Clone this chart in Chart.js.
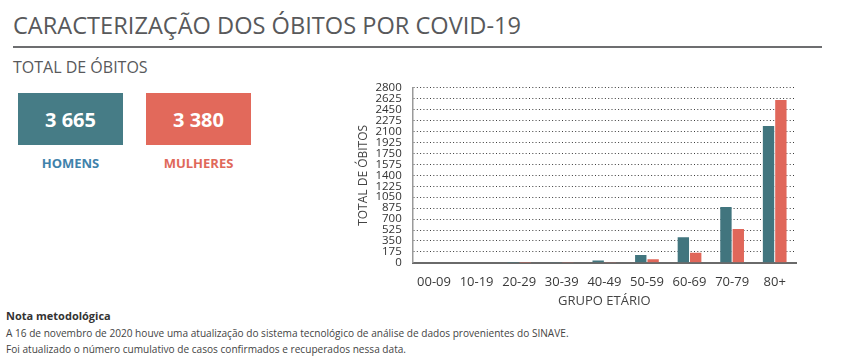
<!DOCTYPE html>
<html>
<head>
<meta charset="utf-8">
<script src="https://cdn.jsdelivr.net/npm/chart.js@4"></script>
<style>
  html, body { margin:0; padding:0; background:#fff; }
  body { width:842px; height:357px; position:relative; overflow:hidden; font-family:"Open Sans", sans-serif; color:#58595b; }
  .abs { position:absolute; white-space:nowrap; }
  #title { left:13px; top:14px; font-size:23.6px; line-height:23px; color:#58595b; }
  #rule { left:13px; top:46px; width:809px; height:2px; background:#6d6e70; }
  #sub { left:13px; top:59px; font-size:16px; line-height:16px; color:#58595b; }
  .box { top:93px; width:105px; height:52px; display:flex; align-items:center; justify-content:center; color:#fff; font-weight:700; font-size:20px; }
  #boxM { left:18px; background:#467c86; }
  #boxF { left:146px; background:#e2695b; }
  .lbl { top:155px; width:105px; text-align:center; font-weight:700; font-size:13px; line-height:17px; }
  #lblM { left:18px; color:#3f82ab; }
  #lblF { left:146px; color:#e0685a; }
  #nota { left:6px; top:309px; font-size:11px; font-weight:700; color:#333; line-height:14px; }
  #l1 { left:6px; top:327px; font-size:10.1px; color:#444; line-height:12px; }
  #l2 { left:6px; top:343px; font-size:10.1px; color:#444; line-height:12px; }
  #wrap { position:absolute; left:350px; top:70px; width:460px; height:241px; }
</style>
</head>
<body>
<div class="abs" id="title">CARACTERIZAÇÃO DOS ÓBITOS POR COVID-19</div>
<div class="abs" id="rule"></div>
<div class="abs" id="sub">TOTAL DE ÓBITOS</div>
<div class="abs box" id="boxM"></div>
<div class="abs box" id="boxF"></div>
<div class="abs lbl" id="lblM"></div>
<div class="abs lbl" id="lblF"></div>
<div class="abs" id="nota">Nota metodológica</div>
<div class="abs" id="l1">A 16 de novembro de 2020 houve uma atualização do sistema tecnológico de análise de dados provenientes do SINAVE.</div>
<div class="abs" id="l2">Foi atualizado o número cumulativo de casos confirmados e recuperados nessa data.</div>
<div id="wrap"><canvas id="c"></canvas></div>
<script>
const categories = ["00-09","10-19","20-29","30-39","40-49","50-59","60-69","70-79","80+"];
const seriesNames = ["HOMENS","MULHERES"];
const homens = [0, 0, 1, 5, 36, 126, 410, 895, 2192];
const mulheres = [0, 0, 1, 3, 12, 58, 160, 540, 2606];
const totals = ["3 665", "3 380"];
const yTicks = [0,175,350,525,700,875,1050,1225,1400,1575,1750,1925,2100,2275,2450,2625,2800];

document.getElementById('boxM').textContent = totals[0];
document.getElementById('boxF').textContent = totals[1];
document.getElementById('lblM').textContent = seriesNames[0];
document.getElementById('lblF').textContent = seriesNames[1];

const ctx = document.getElementById('c');
new Chart(ctx, {
  type: 'bar',
  data: {
    labels: categories,
    datasets: [
      { label: seriesNames[0], data: homens, backgroundColor: '#41757e', barPercentage: 0.92, categoryPercentage: 0.58 },
      { label: seriesNames[1], data: mulheres, backgroundColor: '#e0675a', barPercentage: 0.92, categoryPercentage: 0.58 }
    ]
  },
  options: {
    responsive: true,
    maintainAspectRatio: false,
    animation: false,
    devicePixelRatio: 1,
    layout: { padding: { top: 1, right: 14, left: 6, bottom: 2 } },
    plugins: { legend: { display: false }, tooltip: { enabled: false } },
    scales: {
      x: {
        grid: { display: false, drawTicks: false },
        border: { display: true, color: '#6a6a6a', width: 2 },
        ticks: { color: '#3a3a3a', font: { family: 'Open Sans', size: 13 }, padding: 12, maxRotation: 0, autoSkip: false },
        title: { display: true, text: 'GRUPO ETÁRIO', color: '#444', font: { family: 'Open Sans', size: 13 }, padding: { top: -9, bottom: 0 } }
      },
      y: {
        min: 0, max: 2800,
        afterBuildTicks: (axis) => { axis.ticks = yTicks.map(v => ({ value: v })); },
        grid: { color: '#3c3c3c', lineWidth: 1, drawTicks: false },
        border: { display: true, color: '#9a9a9a', width: 1.5, dash: [1, 2.3] },
        ticks: { color: '#333', font: { family: 'Open Sans', size: 11.5 }, padding: 11, autoSkip: false, callback: (v) => String(v) },
        title: { display: true, text: 'TOTAL DE ÓBITOS', color: '#444', font: { family: 'Open Sans', size: 12 }, padding: { top: 0, bottom: -6 } }
      }
    }
  }
});
</script>
</body>
</html>
